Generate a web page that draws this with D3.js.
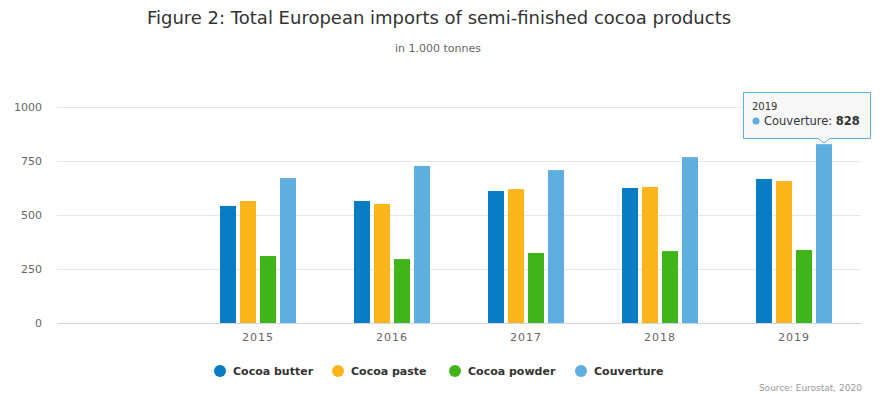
<!DOCTYPE html>
<html>
<head>
<meta charset="utf-8">
<script src="https://cdn.jsdelivr.net/npm/d3@7"></script>
<style>
  body { margin: 0; background: #fff; }
  svg { display: block; font-family: 'DejaVu Sans', sans-serif; }
</style>
</head>
<body>
<svg></svg>
<script>
const years = ['', '2015', '2016', '2017', '2018', '2019']
const seriesNames = ['Cocoa butter', 'Cocoa paste', 'Cocoa powder', 'Couverture']
const cocoaButter = [null, 542, 565, 611, 625, 667]
const cocoaPaste = [null, 565, 551, 620, 630, 657]
const cocoaPowder = [null, 310, 296, 324, 333, 338]
const couverture = [null, 671, 727, 708, 768, 828]
const yTicks = [0, 250, 500, 750, 1000]
const colors = ['#0a7cc4', '#fcb61b', '#40b51a', '#5eafe0']

const width = 884
const height = 394
const margin = { top: 107, right: 23, bottom: 71, left: 57 }

const svg = d3.select('svg')
  .attr('width', width)
  .attr('height', height)
  .attr('viewBox', [0, 0, width, height])

const series = [cocoaButter, cocoaPaste, cocoaPowder, couverture]

const x = d3.scaleBand()
  .domain(years.map((d, i) => i))
  .range([margin.left, width - margin.right])

const inner = d3.scaleBand()
  .domain(d3.range(series.length))
  .range([0, 76])
  .paddingInner(0.2)
  .paddingOuter(0)

const y = d3.scaleLinear()
  .domain([0, 1000])
  .range([height - margin.bottom, margin.top])

// 标题
svg.append('text')
  .attr('x', 439).attr('y', 24)
  .attr('text-anchor', 'middle')
  .attr('fill', '#333')
  .style('font-size', '18px')
  .text('Figure 2: Total European imports of semi-finished cocoa products')

svg.append('text')
  .attr('x', 438).attr('y', 52)
  .attr('text-anchor', 'middle')
  .attr('fill', '#666')
  .style('font-size', '11px')
  .text('in 1.000 tonnes')

// 网格线 + 纵轴
svg.append('g')
  .attr('transform', `translate(${margin.left},0)`)
  .call(d3.axisLeft(y).tickValues(yTicks).tickSize(0).tickPadding(15).tickFormat(d3.format('d')))
  .call(g => g.select('.domain').remove())
  .call(g => g.selectAll('.tick text').attr('fill', '#666').style('font-size', '11px').style('font-family', 'DejaVu Sans, sans-serif'))
  .call(g => g.selectAll('.tick').filter(d => d > 0).append('line')
    .attr('x2', width - margin.left - margin.right)
    .attr('stroke', '#e6e6e6'))

// 横轴
svg.append('g')
  .attr('transform', `translate(0,${height - margin.bottom})`)
  .call(d3.axisBottom(x).tickSize(0).tickPadding(10).tickFormat(i => years[i]))
  .call(g => g.select('.domain').attr('stroke', '#ccd6eb'))
  .call(g => g.selectAll('.tick text').attr('fill', '#666').style('font-size', '11px')
    .style('letter-spacing', '1px').style('font-family', 'DejaVu Sans, sans-serif'))

// 柱子
const groups = svg.append('g')
  .selectAll('g')
  .data(series)
  .join('g')
  .attr('fill', (d, i) => colors[i])

groups.each(function (values, si) {
  d3.select(this).selectAll('rect')
    .data(values.map((v, i) => ({ v, i })).filter(d => d.v !== null))
    .join('rect')
    .attr('x', d => x(d.i) + (x.bandwidth() - inner.range()[1]) / 2 + inner(si))
    .attr('width', inner.bandwidth())
    .attr('y', d => y(d.v))
    .attr('height', d => y(0) - y(d.v))
})

// 图例
const legendX = [220, 338, 455, 581]
const legend = svg.append('g')
  .selectAll('g')
  .data(seriesNames)
  .join('g')
  .attr('transform', (d, i) => `translate(${legendX[i]},371)`)
legend.append('circle').attr('r', 6).attr('fill', (d, i) => colors[i])
legend.append('text')
  .attr('x', 13).attr('dy', '0.35em')
  .attr('fill', '#333')
  .style('font-size', '11px')
  .style('font-weight', 'bold')
  .text(d => d)

// 提示框
const tipIdx = 5
const tipX = x(tipIdx) + (x.bandwidth() - inner.range()[1]) / 2 + inner(3) + inner.bandwidth() / 2
const tipY = y(couverture[tipIdx])
const tip = svg.append('g')
tip.append('path')
  .attr('d', `M${743.5},${92.5} H${870.5} V${138.5} H${tipX + 6} L${tipX},${tipY - 1} L${tipX - 6},${138.5} H${743.5} Z`)
  .attr('fill', 'rgba(247,247,247,0.9)')
  .attr('stroke', colors[3])
  .attr('stroke-width', 1)
tip.append('text')
  .attr('x', 752).attr('y', 110)
  .attr('fill', '#333')
  .style('font-size', '10px')
  .text(years[tipIdx])
tip.append('circle').attr('cx', 756).attr('cy', 121).attr('r', 3.5).attr('fill', colors[3])
const tipText = tip.append('text')
  .attr('x', 764).attr('y', 125)
  .attr('fill', '#333')
  .style('font-size', '11.5px')
tipText.append('tspan').text(seriesNames[3] + ': ')
tipText.append('tspan').style('font-weight', 'bold').text(couverture[tipIdx])

// 来源
svg.append('text')
  .attr('x', 862).attr('y', 391)
  .attr('text-anchor', 'end')
  .attr('fill', '#999')
  .style('font-size', '9px')
  .text('Source: Eurostat, 2020')
</script>
</body>
</html>
